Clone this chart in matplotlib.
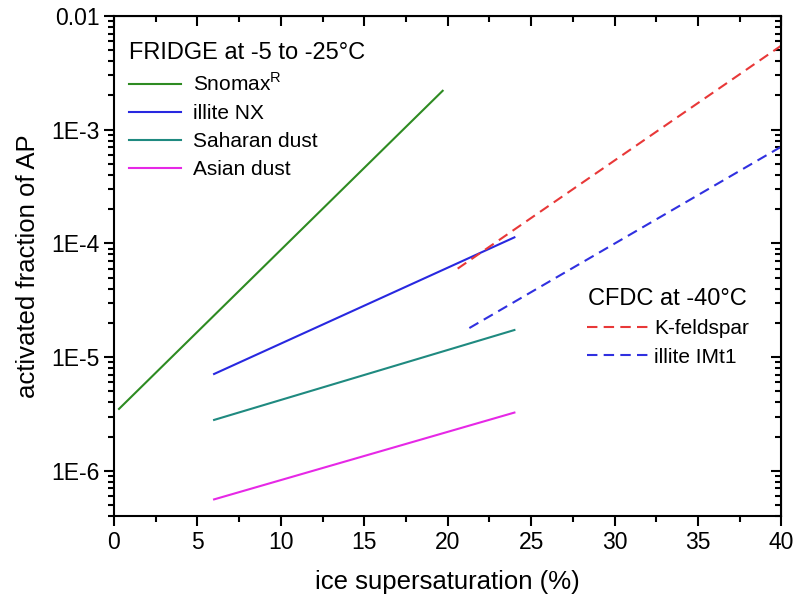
import numpy as np
import matplotlib.pyplot as plt
import matplotlib.ticker as ticker

plt.rcParams['font.family'] = ['Liberation Sans', 'DejaVu Sans']
plt.rcParams['mathtext.fontset'] = 'custom'
plt.rcParams['mathtext.rm'] = 'Liberation Sans'

# FRIDGE lines (start, end)
snomax_x = [0.3, 19.7]
snomax_y = [3.5e-6, 2.2e-3]
illite_nx_x = [6.0, 24.0]
illite_nx_y = [7.1e-6, 1.13e-4]
saharan_x = [6.0, 24.0]
saharan_y = [2.8e-6, 1.73e-5]
asian_x = [6.0, 24.0]
asian_y = [5.6e-7, 3.25e-6]

# CFDC lines
kfeld_x = [20.6, 40.0]
kfeld_y = [6.0e-5, 5.5e-3]
imt1_x = [21.3, 40.0]
imt1_y = [1.8e-5, 7.1e-4]

ytick_vals = [1e-6, 1e-5, 1e-4, 1e-3, 1e-2]
ytick_labels = ['1E-6', '1E-5', '1E-4', '1E-3', '0.01']


def main():
    fig = plt.figure(figsize=(7.96, 6.0), dpi=100)
    ax = fig.add_axes([0.1432, 0.14, 0.8384, 0.8333])

    l1, = ax.plot(snomax_x, snomax_y, color='#2e8b22', lw=1.5)
    l2, = ax.plot(illite_nx_x, illite_nx_y, color='#2828e0', lw=1.5)
    l3, = ax.plot(saharan_x, saharan_y, color='#1f8a80', lw=1.5)
    l4, = ax.plot(asian_x, asian_y, color='#e628e6', lw=1.5)
    l5, = ax.plot(kfeld_x, kfeld_y, color='#e83838', lw=1.5, ls=(0, (5, 3)))
    l6, = ax.plot(imt1_x, imt1_y, color='#3030e0', lw=1.5, ls=(0, (5, 3)))

    ax.set_yscale('log')
    ax.set_xlim(0, 40)
    ax.set_ylim(4e-7, 1e-2)
    ax.set_xticks(np.arange(0, 41, 5))
    ax.xaxis.set_minor_locator(ticker.MultipleLocator(2.5))
    ax.set_yticks(ytick_vals)
    ax.set_yticklabels(ytick_labels)
    ax.yaxis.set_minor_locator(ticker.LogLocator(subs=np.arange(2, 10)))
    ax.yaxis.set_minor_formatter(ticker.NullFormatter())

    for s in ax.spines.values():
        s.set_linewidth(1.5)
    ax.tick_params(which='both', direction='out', labelsize=16.5, width=1.5)
    ax.tick_params(which='major', length=7)
    ax.tick_params(which='minor', length=4)

    # mirrored axes on top / right, ticks pointing inward
    top = ax.secondary_xaxis('top')
    top.set_xticks(np.arange(0, 41, 5))
    top.xaxis.set_minor_locator(ticker.MultipleLocator(2.5))
    top.tick_params(which='both', direction='in', labeltop=False, width=1.5)
    top.tick_params(which='major', length=7)
    top.tick_params(which='minor', length=4)
    right = ax.secondary_yaxis('right')
    right.set_yticks(ytick_vals)
    right.yaxis.set_minor_locator(ticker.LogLocator(subs=np.arange(2, 10)))
    right.yaxis.set_minor_formatter(ticker.NullFormatter())
    right.tick_params(which='both', direction='in', labelright=False, width=1.5)
    right.tick_params(which='major', length=7)
    right.tick_params(which='minor', length=4)

    ax.set_xlabel('ice supersaturation (%)', fontsize=18.5, labelpad=12)
    ax.set_ylabel('activated fraction of AP', fontsize=18.5, labelpad=8)

    leg1 = ax.legend([l1, l2, l3, l4],
                     ['Snomax$^{\\mathrm{R}}$', 'illite NX', 'Saharan dust', 'Asian dust'],
                     title='FRIDGE at -5 to -25°C', loc='upper left',
                     bbox_to_anchor=(0.0, 0.978), frameon=False, fontsize=15,
                     title_fontsize=17, handlelength=2.5, labelspacing=0.43,
                     handletextpad=0.6, borderaxespad=0.3)
    leg1._legend_box.align = 'left'
    ax.add_artist(leg1)
    leg2 = ax.legend([l5, l6], ['K-feldspar', 'illite IMt1'],
                     title='CFDC at -40°C', loc='upper left',
                     bbox_to_anchor=(0.68, 0.494), frameon=False, fontsize=15,
                     title_fontsize=17, handlelength=3.0, labelspacing=0.45,
                     handletextpad=0.25)
    leg2._legend_box.align = 'center'

    fig.savefig('out.png', dpi=100)


if __name__ == '__main__':
    main()
